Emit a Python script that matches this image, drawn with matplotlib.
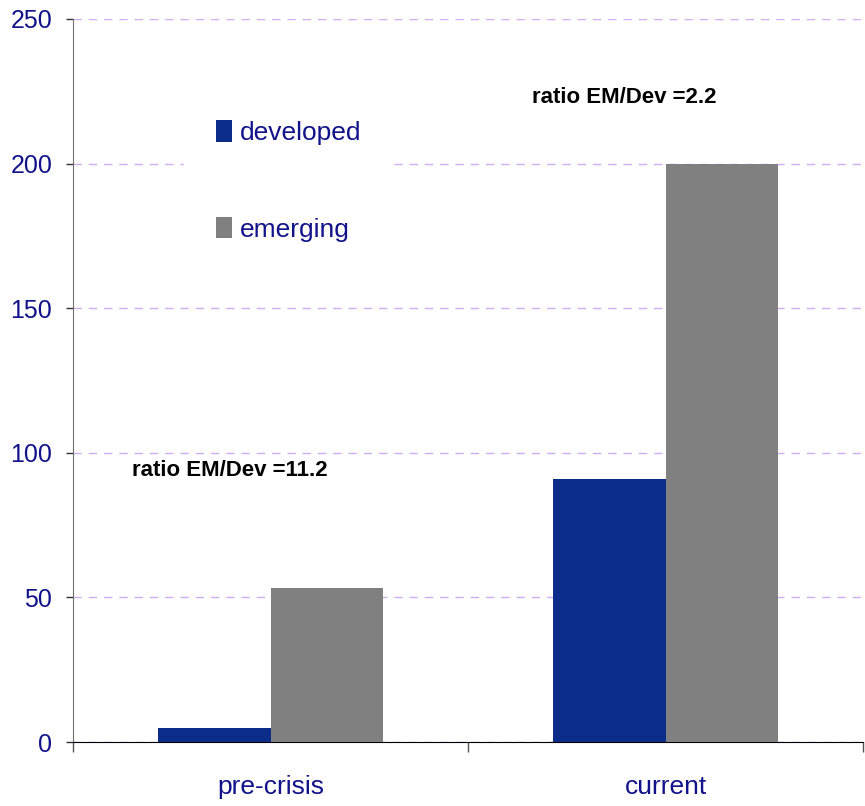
import numpy as np
import matplotlib
matplotlib.use("Agg")
import matplotlib.pyplot as plt

plt.rcParams['font.family'] = ['Liberation Sans Narrow', 'Liberation Sans', 'DejaVu Sans']

categories = ['pre-crisis', 'current']
developed = [4.8, 90.9]
emerging = [53.4, 199.9]
ratio_labels = ['ratio EM/Dev =11.2', 'ratio EM/Dev =2.2']
ratio_pos = [(-0.35, 94), (0.663, 223)]
yticks = [0, 50, 100, 150, 200, 250]

navy = '#12128a'

fig = plt.figure(figsize=(8.65, 8.06), dpi=100)
ax = fig.add_axes([73/865, 64/806, 790/865, 723/806])

x = np.arange(len(categories))
w = 0.286
ax.bar(x - w/2, developed, w, color='#0c2c8a', label='developed', zorder=3)
ax.bar(x + w/2, emerging, w, color='#808080', label='emerging', zorder=3)

ax.set_xlim(-0.5, 1.5)
ax.set_ylim(0, 250)
ax.set_yticks(yticks)
ax.yaxis.grid(True, color='#cfaef8', linestyle=(0, (6, 5)), linewidth=1.0, zorder=0)
ax.set_axisbelow(True)

ax.set_xticks(x)
ax.set_xticklabels(categories)
ax.set_xticks([-0.5, 0.5, 1.5], minor=True)
ax.tick_params(axis='x', which='major', length=0, pad=24, labelsize=19, labelcolor=navy)
ax.tick_params(axis='x', which='minor', length=7, width=1, color='#555555', direction='out')
ax.tick_params(axis='y', length=5, width=1, color='#333333', pad=10, labelsize=18, labelcolor=navy)

for s in ['top', 'right']:
    ax.spines[s].set_visible(False)
ax.spines['left'].set_color('#707070')
ax.spines['bottom'].set_color('#000000')

for txt, (tx, ty) in zip(ratio_labels, ratio_pos):
    ax.text(tx, ty, txt, fontsize=16, fontweight='bold', ha='left', va='center', color='black')

leg = ax.legend(loc='upper left', bbox_to_anchor=(0.124, 0.922), frameon=True,
                facecolor='white', edgecolor='white', framealpha=1,
                fontsize=19, handlelength=0.6, handleheight=0.9, handletextpad=0.3,
                labelspacing=2.7, borderpad=1.2, labelcolor=navy, fancybox=False)
leg.set_zorder(4)

fig.savefig('out.png', dpi=100)
